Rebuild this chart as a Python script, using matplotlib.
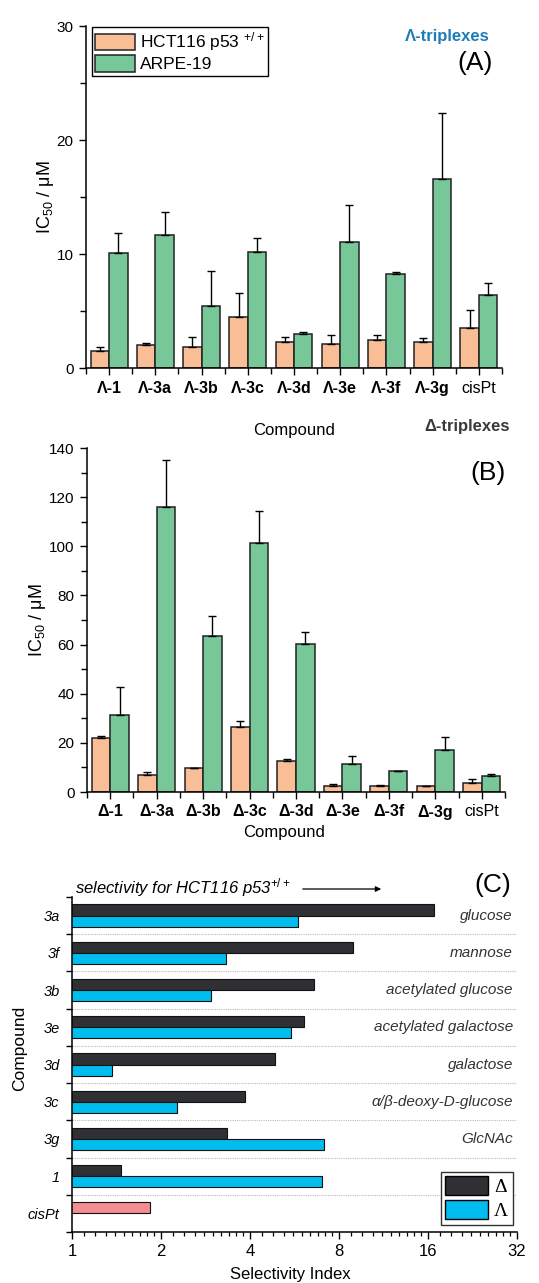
import numpy as np
import matplotlib
matplotlib.use("Agg")
import matplotlib.pyplot as plt
from matplotlib.patches import Patch
from matplotlib.ticker import MultipleLocator, FixedLocator, NullFormatter

plt.rcParams['font.family'] = ['Liberation Sans', 'DejaVu Sans']
plt.rcParams['mathtext.fontset'] = 'custom'
plt.rcParams['mathtext.rm'] = 'Liberation Sans'
plt.rcParams['mathtext.it'] = 'Liberation Sans:italic'
plt.rcParams['mathtext.bf'] = 'Liberation Sans:bold'

# ---- panel A: Lambda-triplexes ----
labels_a = ["Λ-1", "Λ-3a", "Λ-3b", "Λ-3c", "Λ-3d", "Λ-3e", "Λ-3f", "Λ-3g", "cisPt"]
hct_a = [1.46, 1.99, 1.8, 4.5, 2.25, 2.1, 2.5, 2.3, 3.5]
hct_a_err = [0.35, 0.17, 0.9, 2.1, 0.45, 0.8, 0.4, 0.3, 1.6]
arpe_a = [10.06, 11.7, 5.47, 10.2, 2.98, 11.08, 8.25, 16.6, 6.43]
arpe_a_err = [1.78, 1.95, 3.07, 1.2, 0.18, 3.2, 0.17, 5.8, 1.0]

# ---- panel B: Delta-triplexes ----
labels_b = ["Δ-1", "Δ-3a", "Δ-3b", "Δ-3c", "Δ-3d", "Δ-3e", "Δ-3f", "Δ-3g", "cisPt"]
hct_b = [21.8, 7.1, 9.8, 26.5, 12.7, 2.3, 2.6, 2.6, 3.8]
hct_b_err = [0.9, 1.1, 0.0, 2.5, 0.6, 0.8, 0.4, 0.0, 1.6]
arpe_b = [31.3, 115.9, 63.3, 101.5, 60.1, 11.3, 8.4, 16.9, 6.5]
arpe_b_err = [11.6, 19.1, 8.4, 12.9, 5.2, 3.3, 0.0, 5.5, 0.8]

# ---- panel C: selectivity index ----
cmpds_c = ["3a", "3f", "3b", "3e", "3d", "3c", "3g", "1", "cisPt"]
sugars_c = ["glucose", "mannose", "acetylated glucose", "acetylated galactose",
            "galactose", "α/β-deoxy-D-glucose", "GlcNAc", "", ""]
si_delta = [16.8, 8.94, 6.6, 6.07, 4.87, 3.86, 3.34, 1.46, np.nan]
si_lambda = [5.83, 3.33, 2.96, 5.49, 1.37, 2.27, 7.1, 7.01, np.nan]
si_cispt = [np.nan] * 8 + [1.84]

c_orange = "#F9BE95"
c_green = "#77C799"
c_dark = "#2E3034"
c_blue = "#00BDEE"
c_pink = "#F28E91"

W, H = 539, 1283
fig = plt.figure(figsize=(W / 100, H / 100), dpi=100)


def ax_box(l, r, t, b):
    return [l / W, 1 - b / H, (r - l) / W, (b - t) / H]


def bar_panel(ax, labels, hct, hct_err, arpe, arpe_err, ymax, major, minor):
    x = np.arange(len(labels))
    w = 0.4
    ekw = dict(elinewidth=1.0, capthick=1.0, ecolor="black")
    ax.bar(x - w / 2, hct, w, color=c_orange, edgecolor="#222222", linewidth=1.1,
           yerr=[np.zeros(len(hct)), hct_err], capsize=3, error_kw=ekw, label="HCT116 p53 $^{+/+}$")
    ax.bar(x + w / 2, arpe, w, color=c_green, edgecolor="#222222", linewidth=1.1,
           yerr=[np.zeros(len(arpe)), arpe_err], capsize=3, error_kw=ekw, label="ARPE-19")
    ax.set_xlim(-0.5, len(labels) - 0.5)
    ax.set_ylim(0, ymax)
    ax.spines['top'].set_visible(False)
    ax.spines['right'].set_visible(False)
    for s in ('left', 'bottom'):
        ax.spines[s].set_linewidth(1.1)
    ax.yaxis.set_major_locator(MultipleLocator(major))
    ax.yaxis.set_minor_locator(MultipleLocator(minor))
    ax.set_xticks(x)
    ax.set_xticklabels(labels)
    ax.xaxis.set_minor_locator(FixedLocator(np.arange(-0.5, len(labels), 1)))
    ax.tick_params(axis='both', which='major', direction='out', length=5, width=1.0, labelsize=11)
    ax.tick_params(axis='both', which='minor', direction='out', length=4, width=1.0)
    ax.tick_params(axis='x', which='major', pad=4, labelsize=11.5)
    ax.tick_params(axis='y', which='major', pad=4)
    for t in ax.get_xticklabels():
        if t.get_text() != "cisPt":
            t.set_fontweight('bold')


# Panel A
axA = fig.add_axes(ax_box(86, 502, 26, 368))
bar_panel(axA, labels_a, hct_a, hct_a_err, arpe_a, arpe_a_err, 30, 10, 5)
axA.legend(loc='upper left', bbox_to_anchor=(92 / W, 1 - 27 / H), bbox_transform=fig.transFigure,
           borderaxespad=0, fancybox=False, edgecolor='black', framealpha=1, fontsize=12.5,
           handlelength=2.25, handleheight=1.1, handletextpad=0.3, labelspacing=0.1,
           borderpad=0.2).get_frame().set_linewidth(1.0)
fig.text(45 / W, 1 - 197 / H, "IC$_{50}$ / μM", rotation=90, ha='center', va='center', fontsize=13)
fig.text(294 / W, 1 - 430 / H, "Compound", ha='center', va='center', fontsize=12)
fig.text(447 / W, 1 - 37 / H, "Λ-triplexes", ha='center', va='center', fontsize=12,
         fontweight='bold', color="#1E7DB5")
fig.text(475 / W, 1 - 63 / H, "(A)", ha='center', va='center', fontsize=19)

# Panel B
axB = fig.add_axes(ax_box(87, 505, 448, 792))
bar_panel(axB, labels_b, hct_b, hct_b_err, arpe_b, arpe_b_err, 140, 20, 10)
fig.text(38 / W, 1 - 620 / H, "IC$_{50}$ / μM", rotation=90, ha='center', va='center', fontsize=13)
fig.text(284 / W, 1 - 833 / H, "Compound", ha='center', va='center', fontsize=12)
fig.text(467 / W, 1 - 427 / H, "Δ-triplexes", ha='center', va='center', fontsize=12,
         fontweight='bold', color="#3A3A3A")
fig.text(488 / W, 1 - 473 / H, "(B)", ha='center', va='center', fontsize=19)

# Panel C
axC = fig.add_axes(ax_box(72, 517, 897, 1232))
y = np.arange(len(cmpds_c))
h = 0.3
axC.barh(y - h / 2, si_delta, h, left=0, color=c_dark, edgecolor="#111111", linewidth=0.8)
axC.barh(y + h / 2, si_lambda, h, left=0, color=c_blue, edgecolor="#111111", linewidth=0.8)
axC.barh(y - h / 2, si_cispt, h, left=0, color=c_pink, edgecolor="#111111", linewidth=0.8)
axC.set_xscale('log', base=2)
axC.set_xlim(1, 32)
axC.set_ylim(len(cmpds_c) - 0.5, -0.5)
axC.spines['top'].set_visible(False)
axC.spines['right'].set_visible(False)
for s in ('left', 'bottom'):
    axC.spines[s].set_linewidth(1.1)
major_c = [1, 2, 4, 8, 16, 32]
axC.xaxis.set_major_locator(FixedLocator(major_c))
axC.set_xticklabels([str(v) for v in major_c])
minor_c = [2 ** k * s for k in range(5) for s in np.arange(1.1, 2.0, 0.1)]
axC.xaxis.set_minor_locator(FixedLocator(minor_c))
axC.xaxis.set_minor_formatter(NullFormatter())
axC.tick_params(axis='x', which='major', direction='out', length=5, width=1.0, labelsize=12, pad=4)
axC.tick_params(axis='x', which='minor', direction='out', length=3, width=0.9)
bounds = np.arange(-0.5, len(cmpds_c), 1)
axC.yaxis.set_major_locator(FixedLocator(bounds))
axC.yaxis.set_major_formatter(NullFormatter())
axC.yaxis.set_minor_locator(FixedLocator(y))
axC.set_yticklabels(cmpds_c, minor=True)
axC.tick_params(axis='y', which='major', direction='out', length=4, width=1.0)
axC.tick_params(axis='y', which='minor', length=0, pad=9, labelsize=10.5)
for t in axC.get_yticklabels(minor=True):
    t.set_fontstyle('italic')
for b in bounds[1:-1]:
    axC.axhline(b, color="#BBBBBB", linestyle=(0, (1, 1)), linewidth=0.8, zorder=0)
for yi, s in zip(y, sugars_c):
    if s:
        axC.text(0.991, yi, s, transform=axC.get_yaxis_transform(), ha='right', va='center',
                 fontsize=11, fontstyle='italic', color="#333333")
legC = axC.legend(handles=[Patch(facecolor=c_dark, edgecolor='black', label="Δ"),
                           Patch(facecolor=c_blue, edgecolor='black', label="Λ")],
                  loc='lower right', bbox_to_anchor=(513 / W, 1 - 1225 / H),
                  bbox_transform=fig.transFigure, borderaxespad=0, fancybox=False,
                  edgecolor='#333333', framealpha=1, handlelength=2.2, handleheight=1.1,
                  handletextpad=0.3, labelspacing=0.2, borderpad=0.25,
                  prop={'family': 'Liberation Serif', 'size': 14})
legC.get_frame().set_linewidth(1.0)
fig.text(20 / W, 1 - 1048 / H, "Compound", rotation=90, ha='center', va='center', fontsize=12.5)
fig.text(290 / W, 1 - 1274 / H, "Selectivity Index", ha='center', va='center', fontsize=12)
fig.text(75 / W, 1 - 888 / H, "selectivity for HCT116 p53$^{+/+}$", ha='left', va='center',
         fontsize=12, fontstyle='italic')
fig.patches.append(matplotlib.patches.FancyArrowPatch(
    (300 / W, 1 - 889 / H), (384 / W, 1 - 889 / H), transform=fig.transFigure,
    arrowstyle='-|>', mutation_scale=8, linewidth=0.9, color='black'))
fig.text(493 / W, 1 - 885 / H, "(C)", ha='center', va='center', fontsize=19)

fig.savefig("out.png", dpi=100)
